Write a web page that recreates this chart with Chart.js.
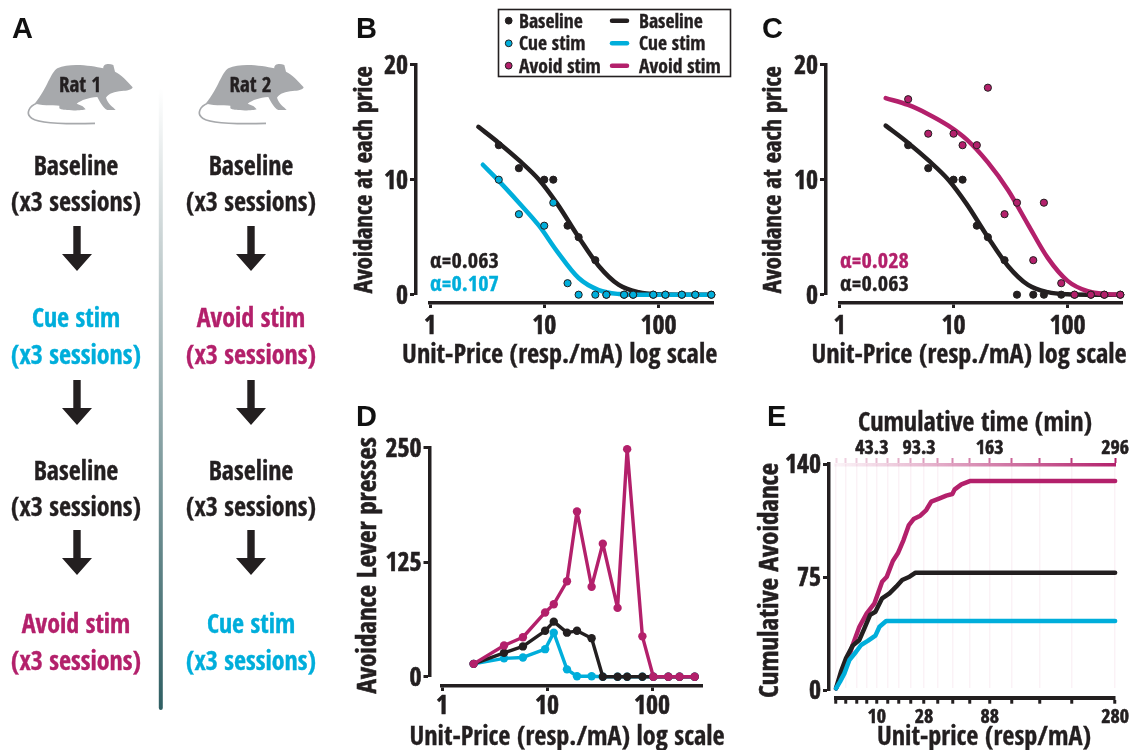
<!DOCTYPE html>
<html><head><meta charset="utf-8">
<script src="https://cdn.jsdelivr.net/npm/chart.js@4"></script>
<style>
html,body{margin:0;padding:0;background:#fff;width:1131px;height:750px;overflow:hidden}
canvas{position:absolute;left:0;top:0}
.t{position:absolute;transform:translate(-50%,-50%);white-space:nowrap;font-family:"Open Sans Condensed","Open Sans",sans-serif;font-weight:700;color:#231f20;line-height:1.2;-webkit-text-stroke:.35px currentColor}
.l{position:absolute;transform:translateY(-50%);white-space:nowrap;font-family:"Open Sans Condensed","Open Sans",sans-serif;font-weight:700;color:#231f20;line-height:1.2;-webkit-text-stroke:.35px currentColor}
.p{position:absolute;font:700 29px "Liberation Sans",sans-serif;color:#111;line-height:1}
svg{position:absolute}
</style></head><body>
<canvas id="cB" width="1131" height="750"></canvas>
<canvas id="cC" width="1131" height="750"></canvas>
<canvas id="cD" width="1131" height="750"></canvas>
<canvas id="cE" width="1131" height="750"></canvas>
<div id="ov"></div>
<script>
const INK='#231f20', CUE='#00aedb', AVOID='#b3206b';
const FONT='"Open Sans Condensed","Open Sans",sans-serif';

// Panels B and C: avoidance at each price
const prices=[4,6,10,12,16,20,28,35,50,60,90,115,160,210,290];
const baselinePts=[13,11,10,10,6,5,3,0,0,0,0,0,0,0,0];
const cuePts=[10,7,6,8,1,0,0,0,0,0,0,0,0,0,0];
const avoidPts=[17,14,14,13,13,18,7,8,3,8,1,0,0,0,0];
const pricesC=[4,6,10,12,16,20,28,36,50,62,88,115,160,210,290];

// fitted demand curves
const fitBaseX=[2.65,4,6,9,13,20,30,45,67,100,150,300];
const fitBaseY=[14.6,13.2,11.7,10,7.9,5,2.5,.85,.22,.03,0,0];
const fitBaseXC=[2.54,4,6,9,13,20,30,45,67,100,150,300];
const fitBaseYC=[14.7,13.2,11.7,10,7.9,5,2.5,.85,.22,.03,0,0];
const fitCueX=[2.9,4,6,9,13,20,30,45,67,290];
const fitCueY=[11.3,9.9,8,6,3.75,1.45,.4,.06,0,0];
const fitAvoidX=[2.54,4,6,9,13,20,30,45,67,100,150,225,300];
const fitAvoidY=[17.1,16.5,15.7,14.7,13.5,11.5,9.1,6.1,3.2,1.2,.3,.05,0];

// Panel D: lever presses
const pricesD=[2,3.9,5.9,9.6,11.6,15.5,19.3,26.6,34,47,58,81,103,143,183,255];
const pressBase=[14,26,33,50,60,48,50,42,0,0,0,0,0,0,0,0];
const pressCue=[14,20,21,30,48,8,0.5,0.5,0,0,0,0,0,0,0,0];
const pressAvoid=[14,34,43,70,79,104,180,98,145,75,248,44,0,0,0,0];

// Panel E: cumulative curves against cumulative time (min)
const timeAvoid=[0,8.9,17.7,24.8,32.6,40.8,48.9,53.9,60.3,65.6,71.6,77.3,82.3,89.4,95.7,101,109.9,117,123.4,125.9,133,142.6,296];
const cumAvoid=[1,12.4,27.9,39.2,47.5,53.7,67.1,70.2,79.9,84.7,92.9,102.2,105.9,108,111.5,116.7,118.7,120.4,121.4,124.3,127.4,129.5,129.5];
const timeBase=[0,5.3,10.6,17.7,24.8,30.1,36.2,41.8,48.9,56.7,63.8,70.2,78,84.4,296];
const cumBase=[1,11.4,19.6,27.5,31,38.2,46.5,48.5,56.8,59.9,64,68.1,70.2,72.7,72.7];
const timeCue=[0,4.3,8.9,14.2,21.3,26.6,33.7,41.8,46.1,53.2,296];
const cumCue=[1,5.2,10.3,18.6,23.7,27.9,30.4,33.7,39.2,42.7,42.7];
const timeTicks=[0,10.6,22,32.6,43.3,54.6,66.7,79,93.3,107.4,124,142,163,186,215.6,250,296];
const priceLabels={43.3:'10',93.3:'28',163:'88',296:'280'};
const timeLabels={43.3:'43.3  ',93.3:'93.3  ',163:'163',296:'296'};
const logTicks=[1,10,100];
const yTicksAvoid=[0,10,20];
const yTicksPress=[0,125,250];
const yTicksCum=[0,70,140];
const yLabelsCum={0:'0',70:'75',140:'140'};

Chart.defaults.animation=false;
// slightly heavier canvas text, to match the reference's bold condensed face
['cB','cC','cD','cE'].forEach(id=>{
  const c=document.getElementById(id).getContext('2d'),fill=c.fillText.bind(c);
  c.fillText=function(t,x,y,m){fill(t,x,y,m);c.save();c.lineWidth=.6;c.strokeStyle=c.fillStyle;c.strokeText(t,x,y);c.restore();};
});
const pts=(xs,ys)=>xs.map((x,i)=>({x,y:ys[i]}));
const curve=(xs,ys,c)=>({data:pts(xs,ys),borderColor:c,borderWidth:4.5,pointRadius:0,borderCapStyle:'round',cubicInterpolationMode:'monotone',clip:false});
const dots=(xs,ys,c,edge)=>({data:pts(xs,ys),showLine:false,pointRadius:3.6,pointBackgroundColor:c,pointBorderColor:edge||c,pointBorderWidth:1,clip:false});
const poly=(xs,ys,c)=>({data:pts(xs,ys),borderColor:c,borderWidth:3.4,pointRadius:4.2,pointBackgroundColor:c,pointBorderColor:c,pointBorderWidth:0,borderJoinStyle:'round',clip:false});
const trace=(xs,ys,c)=>({data:pts(xs,ys),borderColor:c,borderWidth:4.5,pointRadius:0,borderCapStyle:'round',borderJoinStyle:'round',clip:false});

const shiftPlugin={id:'axisShift',afterLayout(ch,a,o){
  for(const k in o.boxes||{}){const s=ch.scales[k],b=o.boxes[k];Object.assign(s,b);}
}};
const zeroSize=s=>{if(s.isHorizontal())s.height=0;else s.width=0;};

function xLog(pad){return{type:'logarithmic',min:1,max:300,afterFit:zeroSize,
  afterBuildTicks:s=>{s.ticks=logTicks.map(v=>({value:v,major:true}));},
  border:{display:true,color:INK,width:3.5},
  grid:{drawOnChartArea:false,drawTicks:true,tickLength:5,tickWidth:3,tickColor:INK},
  ticks:{autoSkip:false,maxRotation:0,color:INK,padding:pad,font:{family:FONT,size:26,weight:'bold'},callback:v=>String(v)}};}
function yAxis(tickVals,max,title,size,labels){return{type:'linear',min:0,max,afterFit:zeroSize,
  afterBuildTicks:s=>{s.ticks=tickVals.map(v=>({value:v}));},
  border:{display:true,color:INK,width:3.5},
  grid:{drawOnChartArea:false,drawTicks:true,tickLength:6,tickWidth:3,tickColor:INK},
  title:{display:true,text:title,color:INK,padding:0,font:{family:FONT,size,weight:'bold',lineHeight:1.2}},
  ticks:{autoSkip:false,color:INK,padding:2,labelOffset:2.5,font:{family:FONT,size:26,weight:'bold'},callback:v=>labels?labels[v]:String(v)}};}

function make(id,area,boxes,datasets,scales){
  new Chart(document.getElementById(id),{type:'line',data:{datasets},plugins:[shiftPlugin],
    options:{responsive:false,parsing:{xAxisKey:'x',yAxisKey:'y'},
      layout:{padding:{left:area[0],top:area[1],right:1131-area[2],bottom:750-area[3]}},
      plugins:{legend:{display:false},tooltip:{enabled:false},axisShift:{boxes}},
      scales}});
}
// B
make('cB',[430,64.7,713,294.7],{x:{top:303,bottom:345},y:{left:351.3,right:416}},[
  dots(prices,cuePts,CUE,INK),dots(prices,baselinePts,INK),
  curve(fitCueX,fitCueY,CUE),curve(fitBaseX,fitBaseY,INK)],
  {x:xLog(4),y:yAxis(yTicksAvoid,20,'Avoidance at each price',24.5)});
// C
make('cC',[839.5,64.7,1122,294.7],{x:{top:303,bottom:345},y:{left:760.3,right:826}},[
  dots(pricesC,avoidPts,AVOID,INK),dots(pricesC,baselinePts,INK),
  curve(fitAvoidX,fitAvoidY,AVOID),curve(fitBaseXC,fitBaseYC,INK)],
  {x:xLog(4),y:yAxis(yTicksAvoid,20,'Avoidance at each price',24.5)});
// D
const xD=xLog(1);xD.max=Math.pow(10,(702.7-442)/105);
make('cD',[442,447.3,702.7,676.7],{x:{top:686,bottom:725},y:{left:353,right:429.5}},[
  poly(pricesD,pressAvoid,AVOID),poly(pricesD,pressBase,INK),poly(pricesD,pressCue,CUE)],
  {x:xD,y:yAxis(yTicksPress,250,'Avoidance Lever presses ',27)});
// E
const ctxE=document.getElementById('cE').getContext('2d');
const topGrad=ctxE.createLinearGradient(836,0,1116,0);
topGrad.addColorStop(0,'rgba(179,32,107,.05)');topGrad.addColorStop(.3,'rgba(179,32,107,.3)');topGrad.addColorStop(1,'rgba(179,32,107,1)');
make('cE',[836,464,1116,690],{x:{top:697.7,bottom:725},xt:{top:425,bottom:465},y:{left:755,right:829}},[
  trace(timeCue,cumCue,CUE),trace(timeBase,cumBase,INK),trace(timeAvoid,cumAvoid,AVOID)],
  {x:{type:'linear',min:0,max:296,afterFit:zeroSize,
      afterBuildTicks:s=>{s.ticks=timeTicks.map(v=>({value:v}));},
      border:{display:true,color:INK,width:4},
      grid:{drawOnChartArea:true,color:'rgba(179,32,107,.06)',lineWidth:1.5,drawTicks:true,tickLength:6,tickWidth:3,tickColor:INK},
      ticks:{autoSkip:false,maxRotation:0,color:INK,padding:2,font:{family:FONT,size:20,weight:'bold'},callback:v=>priceLabels[v]||''}},
   xt:{type:'linear',position:'top',min:0,max:296,afterFit:zeroSize,
      afterBuildTicks:s=>{s.ticks=timeTicks.map(v=>({value:v}));},
      border:{display:true,color:topGrad,width:3.5},
      grid:{drawOnChartArea:false,drawTicks:true,tickLength:7,tickWidth:2,tickColor:c=>{const v=c.tick?c.tick.value:0;return 'rgba(179,32,107,'+(0.18+0.82*v/296).toFixed(2)+')';}},
      ticks:{autoSkip:false,maxRotation:0,color:INK,padding:-3,font:{family:FONT,size:20,weight:'bold'},callback:v=>timeLabels[v]||''}},
   y:yAxis(yTicksCum,140,'Cumulative Avoidance ',27,yLabelsCum)});

// Text, legend and the protocol diagram of panel A
const ov=document.getElementById('ov');
const add=(cls,x,y,txt,size,color)=>{const d=document.createElement('div');d.className=cls;d.style.left=x+'px';d.style.top=y+'px';d.textContent=txt;if(size)d.style.fontSize=size+'px';if(color)d.style.color=color;ov.appendChild(d);return d;};
[['A',12,14],['B',356,14],['C',762,14],['D',356,402],['E',767,402]].forEach(p=>add('p',p[1],p[2],p[0]));
add('t',559.7,354,'Unit-Price (resp./mA) log scale',26.3);
add('t',969,354,'Unit-Price (resp./mA) log scale',26.3);
add('t',567,735.7,'Unit-Price (resp./mA) log scale',26.3);
add('t',984,735.7,'Unit-price (resp/mA)',26.3);
add('t',975,422,'Cumulative time (min)',26.3);
add('l',430,260,'α=0.063',22.3,INK);add('l',430,283,'α=0.107',22.3,CUE);
add('l',840,260,'α=0.028',22.3,AVOID);add('l',840,283,'α=0.063',22.3,INK);

const steps1=[['Baseline',INK,166],['(x3 sessions)',INK,202],['Cue stim',CUE,318],['(x3 sessions)',CUE,355],['Baseline',INK,471],['(x3 sessions)',INK,507],['Avoid stim',AVOID,624],['(x3 sessions)',AVOID,661]];
const steps2=[['Baseline',INK,166],['(x3 sessions)',INK,202],['Avoid stim',AVOID,318],['(x3 sessions)',AVOID,355],['Baseline',INK,471],['(x3 sessions)',INK,507],['Cue stim',CUE,624],['(x3 sessions)',CUE,661]];
steps1.forEach(s=>add('t',76,s[2],s[0],26,s[1]));
steps2.forEach(s=>add('t',251,s[2],s[0],26,s[1]));

const RAT='M338 97C322 78 303 58 285 50L280 30C265 24 248 28 250 40C215 32 150 22 112 40C90 55 85 95 45 145C55 152 100 152 118 152L118 160C125 168 185 168 197 163C190 152 180 150 170 146C185 135 205 128 232 126C240 142 250 160 262 165L287 165C280 155 265 150 258 128C265 115 285 110 305 108C320 108 335 105 338 97Z';
let html='';
[[20,'Rat 1',80],[190.5,'Rat 2',250.5]].forEach(r=>{
  html+=`<svg style="left:${r[0]}px;top:55px" width="130" height="80" viewBox="0 0 390 240"><path d="${RAT}" fill="#a7a9ac"/><path d="M50 145C25 155 20 175 30 185C45 205 130 208 225 205" fill="none" stroke="#a7a9ac" stroke-width="5"/></svg>`;
  html+=`<div class="t" style="left:${r[2]}px;top:85px;font-size:21px">${r[1]}</div>`;
});
[[226,77],[380,77],[530,77],[226,251],[380,251],[530,251]].forEach(a=>{
  html+=`<svg style="left:${a[1]-16}px;top:${a[0]}px" width="32" height="46" viewBox="0 0 32 46"><path d="M12.3 0H19.7V28H31L16 45 1 28H12.3Z" fill="#231f20"/></svg>`;
});
html+=`<svg style="left:156px;top:85px" width="10" height="630"><defs><linearGradient id="vg" x1="0" y1="0" x2="0" y2="1"><stop offset="0" stop-color="#fff"/><stop offset=".25" stop-color="#c9d3d4"/><stop offset="1" stop-color="#2f5f63"/></linearGradient></defs><rect x="2.8" y="3" width="4" height="622" rx="2" fill="url(#vg)"/></svg>`;
html+=`<svg style="left:497px;top:8px" width="235" height="70"><rect x="1.5" y="1.5" width="232" height="67" fill="#fff" stroke="#231f20" stroke-width="1.6"/>`;
[[12.7,INK],[35.3,CUE],[57.7,AVOID]].forEach(e=>{
  html+=`<circle cx="11.7" cy="${e[0]}" r="3.4" fill="${e[1]}" stroke="#231f20" stroke-width="1"/><line x1="115" x2="130" y1="${e[0]}" y2="${e[0]}" stroke="${e[1]}" stroke-width="4.5" stroke-linecap="round"/>`;
});
html+='</svg>';
ov.insertAdjacentHTML('beforeend',html);
[['Baseline',20.7],['Cue stim',43.3],['Avoid stim',65.7]].forEach(e=>{add('l',519,e[1],e[0],19.6);add('l',639,e[1],e[0],19.6);});
</script></body></html>
